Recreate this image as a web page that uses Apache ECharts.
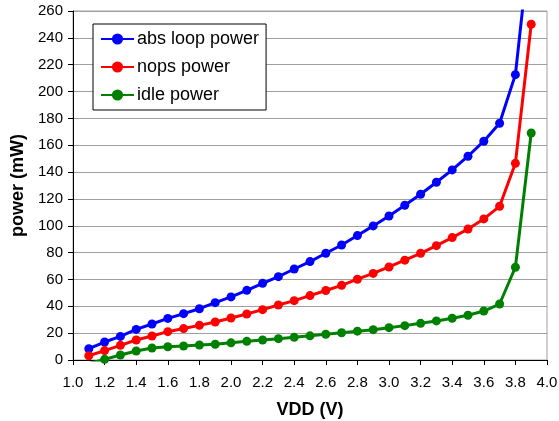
<!DOCTYPE html>
<html>
<head>
<meta charset="utf-8">
<script src="https://cdn.jsdelivr.net/npm/echarts@6.0.0/dist/echarts.min.js"></script>
<style>
    html, body { margin: 0; padding: 0; background: #fff; }
    #chart { width: 559px; height: 421px; }
</style>
</head>
<body>
<div id="chart"></div>
<script>
// 电压 (V)
const vdd = [1.1, 1.2, 1.3, 1.4, 1.5, 1.6, 1.7, 1.8, 1.9, 2.0,
    2.1, 2.2, 2.3, 2.4, 2.5, 2.6, 2.7, 2.8, 2.9, 3.0,
    3.1, 3.2, 3.3, 3.4, 3.5, 3.6, 3.7, 3.8, 3.9]

// 功耗 (mW)
const absLoopPower = [8.4, 13.4, 17.6, 22.8, 26.8, 31, 34.5, 38.2, 42.7, 47,
    51.9, 57.1, 62.1, 67.8, 73.3, 79.5, 85.7, 92.7, 99.9, 107.3,
    115.3, 123.5, 132.4, 141.6, 151.8, 163, 176.4, 212.6, 320]
const nopsPower = [3.2, 7, 10.9, 14.9, 17.9, 21.1, 23.4, 25.8, 28.3, 31.3,
    34.3, 37.5, 41, 44.2, 48, 51.8, 55.6, 60.2, 64.5, 69.3,
    74.4, 79.5, 85.2, 91.2, 97.6, 105.1, 114.5, 146.5, 250.1]
const idlePower = [-2.5, 0.5, 3.7, 6.7, 8.9, 9.9, 10.4, 11.2, 11.7, 12.8,
    13.9, 14.9, 15.9, 16.9, 18, 19.2, 20.3, 21.5, 22.6, 24.1,
    25.6, 27.3, 29.1, 31.1, 33.3, 36.5, 41.7, 69.1, 169.1]

const seriesNames = ['abs loop power', 'nops power', 'idle power']
const seriesColors = ['#0000ff', '#ff0000', '#008000']

const FONT = '"Liberation Sans", Arial, sans-serif'

const toPairs = (ys) => vdd.map((x, i) => [x, ys[i]])

const makeSeries = (name, ys, color) => ({
    name: name,
    type: 'line',
    data: toPairs(ys),
    symbol: 'circle',
    symbolSize: 9,
    clip: true,
    color: color,
    lineStyle: { width: 3, color: color },
    itemStyle: { color: color },
})

const myChart = echarts.init(document.getElementById('chart'))
myChart.setOption({
    animation: false,
    backgroundColor: '#fff',
    textStyle: { fontFamily: FONT },
    legend: {
        orient: 'vertical',
        left: 93,
        top: 24,
        padding: [6, 7, 6, 7],
        itemGap: 10,
        itemWidth: 33,
        itemHeight: 14,
        borderColor: '#000',
        borderWidth: 1,
        backgroundColor: '#fff',
        textStyle: { fontSize: 18, color: '#000', fontFamily: FONT, padding: [0, 0, 0, -2] },
        data: seriesNames,
    },
    grid: {
        left: 73,
        right: 12,
        top: 11,
        bottom: 61,
        outerBoundsMode: 'none',
        containLabel: false,
        show: true,
        borderColor: '#a0a0a0',
        borderWidth: 1,
    },
    xAxis: {
        type: 'value',
        min: 1,
        max: 4,
        interval: 0.2,
        name: 'VDD (V)',
        nameLocation: 'middle',
        nameGap: 41,
        nameTextStyle: { fontSize: 18, fontWeight: 'bold', color: '#000', fontFamily: FONT },
        axisLine: { lineStyle: { color: '#000', width: 1 } },
        axisTick: { show: true, length: 5, lineStyle: { color: '#000' } },
        axisLabel: {
            fontSize: 15,
            color: '#000',
            margin: 15,
            formatter: (v) => v.toFixed(1),
        },
        splitLine: { show: false },
    },
    yAxis: {
        type: 'value',
        min: 0,
        max: 260,
        interval: 20,
        name: 'power (mW)',
        nameLocation: 'middle',
        nameGap: 45,
        nameTextStyle: { fontSize: 18, fontWeight: 'bold', color: '#000', fontFamily: FONT },
        axisLine: { show: true, lineStyle: { color: '#000', width: 1 } },
        axisTick: { show: true, length: 5, lineStyle: { color: '#000' } },
        axisLabel: { fontSize: 15, color: '#000', margin: 10 },
        splitLine: { show: true, lineStyle: { color: '#a0a0a0', width: 1 } },
    },
    series: [
        makeSeries(seriesNames[0], absLoopPower, seriesColors[0]),
        makeSeries(seriesNames[1], nopsPower, seriesColors[1]),
        makeSeries(seriesNames[2], idlePower, seriesColors[2]),
    ],
})
</script>
</body>
</html>
